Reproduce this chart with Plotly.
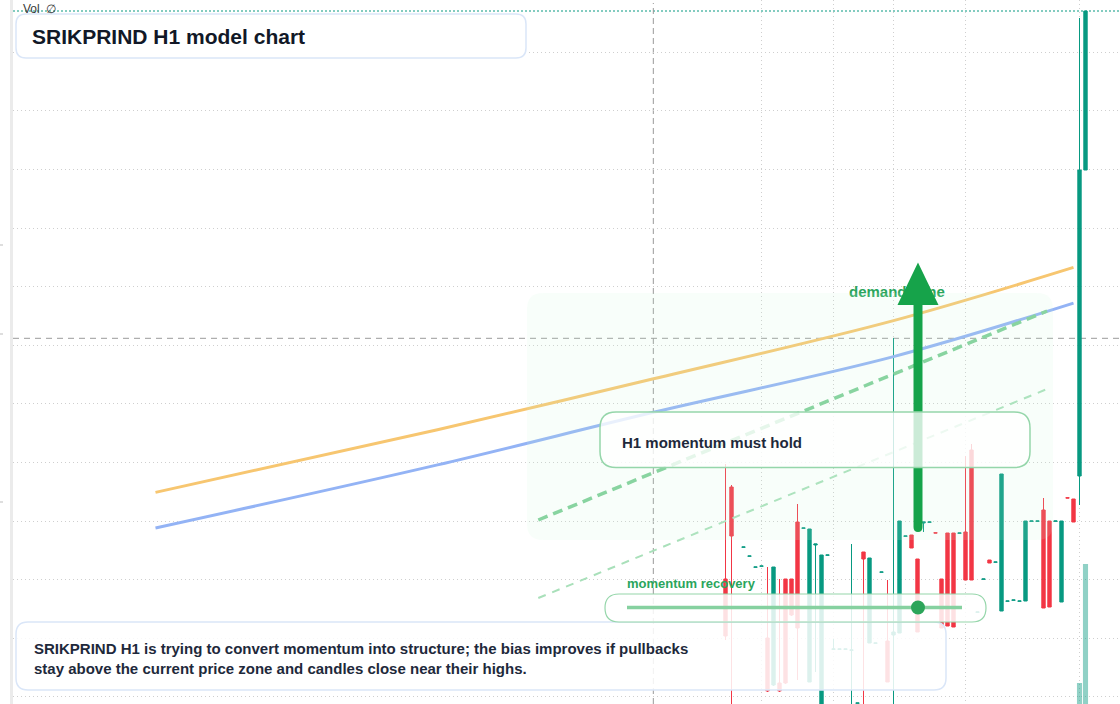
import plotly.graph_objects as go

# ---------------- data (bar index, prices) ----------------
bar_index = [0, 1, 3, 4, 5, 6, 7, 8, 9, 10, 11, 12, 13, 14, 15, 16, 17, 18, 19, 20,
             21, 22, 23, 24, 25, 26, 27, 28, 29, 30, 31, 32, 33, 34, 35, 36, 37, 38, 39, 40,
             41, 42, 43, 44, 45, 46, 47, 48, 49, 50, 51, 52, 53, 54, 55, 56, 57, 58, 59, 60]

open_ = [142.1, 151.3, 145.28, 144.38, 143.28, 143.38, 136.2, 131.5, 131.7, 142.1,
         142.1, 147.8, 147.18, 131.8, 145.5, 128.0, 144.48, 135.08, 135.08, 135.08,
         134.98, 129.68, 144.8, 135.7, 135.68, 142.78, 135.9, 136.5, 136.7, 146.38,
         146.5, 144.1, 147.7, 147.78, 146.72, 142.1, 146.7, 146.7, 146.68, 146.8,
         155.0, 138.78, 142.08, 144.0, 143.78, 138.9, 139.88, 139.98, 139.88, 139.9,
         147.88, 147.88, 149.0, 147.9, 147.88, 139.8, 150.22, 150.1, 152.4, 183.0]

high = [153.6, 151.5, 145.30, 144.40, 143.30, 143.40, 143.3, 143.3, 142.1, 142.1,
        142.1, 149.6, 147.20, 147.1, 145.6, 144.5, 144.50, 136.1, 135.10, 135.10,
        145.6, 129.70, 144.8, 144.2, 135.70, 142.80, 142.0, 166.2, 147.9, 146.40,
        146.5, 144.1, 147.8, 147.80, 146.72, 142.1, 146.7, 146.7, 146.70, 154.4,
        155.6, 138.80, 142.10, 144.0, 143.80, 152.6, 139.90, 140.00, 139.90, 147.9,
        147.90, 147.90, 150.2, 147.9, 147.90, 147.9, 150.22, 150.1, 198.2, 198.9]

low = [136.0, 128.0, 145.28, 144.38, 143.28, 143.38, 130.8, 131.4, 130.8, 131.6,
       138.4, 132.0, 147.18, 131.8, 132.8, 127.5, 144.48, 135.08, 135.08, 135.08,
       128.0, 129.68, 128.0, 135.7, 135.68, 142.78, 131.8, 129.0, 136.7, 146.38,
       145.2, 136.8, 146.8, 147.78, 146.70, 137.2, 137.4, 137.3, 146.68, 142.0,
       142.0, 138.78, 142.08, 143.7, 143.78, 138.9, 139.88, 139.98, 139.88, 139.9,
       147.88, 147.88, 139.2, 139.3, 147.88, 139.8, 150.20, 147.8, 149.5, 183.0]

close = [136.4, 146.4, 145.30, 144.40, 143.30, 143.40, 130.9, 143.3, 130.9, 131.7,
         138.5, 137.2, 147.20, 147.1, 145.6, 144.5, 144.50, 135.10, 135.10, 135.10,
         135.0, 129.70, 144.1, 144.2, 135.70, 142.80, 131.8, 136.8, 147.9, 146.40,
         145.2, 136.8, 147.8, 147.80, 146.70, 137.2, 137.4, 137.3, 146.70, 142.0,
         142.0, 138.80, 142.10, 143.7, 143.80, 152.6, 139.90, 140.00, 139.90, 147.9,
         147.90, 147.90, 139.2, 139.3, 147.90, 147.9, 150.20, 147.8, 183.0, 198.9]

volume = [31000, 42000, 12000, 9000, 8000, 7000, 26000, 33000, 22000, 28000,
          19000, 35000, 6000, 38000, 21000, 44000, 5000, 6000, 4000, 4000,
          27000, 3000, 24000, 29000, 3000, 4000, 25000, 47000, 36000, 5000,
          9000, 23000, 8000, 4000, 3000, 18000, 27000, 28000, 5000, 30000,
          39000, 4000, 5000, 7000, 4000, 41000, 5000, 4000, 5000, 32000,
          4000, 4000, 37000, 29000, 4000, 30000, 5000, 12000, 77000, 196000]

# moving-average style curves (bar index, price)
ma_x = [-95, -48, -12, 28, 58]
ma_slow = [150.76, 157.03, 162.12, 167.94, 173.26]   # orange
ma_fast = [147.20, 153.51, 158.77, 164.34, 169.69]   # blue

# trend channel (bar index, price)
trend_x = [-31.2, 53.6]
trend_upper = [148.0, 168.9]
trend_lower = [140.2, 161.1]

grid_prices = [194.77, 188.91, 183.05, 177.19, 171.33, 165.47, 159.61,
               153.75, 147.89, 142.03, 136.17, 130.31]
grid_bars = [6, 18, 28, 40, 59]
cursor_bar = -12.03
cursor_price = 166.17
last_price = 198.9

price_range = [129.6, 200.0]
bar_range = [-118.75, 65.75]
vol_range = [56000, 760000]

# ---------------- helpers (pixel layout) ----------------
W, H = 1120, 704
LM = 13

def PX(x):
    return (x - LM) / (W - LM)

def PY(y):
    return 1 - y / H

def bar_of(px):
    return bar_range[0] + (px - LM) / (W - LM) * (bar_range[1] - bar_range[0])

def price_of(py):
    return price_range[1] - py / H * (price_range[1] - price_range[0])

def path_px(cmds, close_path=True):
    out = []
    for c, pts in cmds:
        coords = []
        for i in range(0, len(pts), 2):
            coords.append(f"{PX(pts[i]):.5f},{PY(pts[i+1]):.5f}")
        out.append(c + " ".join(coords))
    s = " ".join(out)
    return s + (" Z" if close_path else "")

def rrect(x0, y0, x1, y1, r):
    return path_px([
        ("M", [x0 + r, y0]), ("L", [x1 - r, y0]), ("Q", [x1, y0, x1, y0 + r]),
        ("L", [x1, y1 - r]), ("Q", [x1, y1, x1 - r, y1]), ("L", [x0 + r, y1]),
        ("Q", [x0, y1, x0, y1 - r]), ("L", [x0, y0 + r]), ("Q", [x0, y0, x0 + r, y0]),
    ])

UP = "#089981"
DN = "#F23645"
FONT = "Liberation Sans, Arial, Helvetica, sans-serif"

fig = go.Figure()

vol_colors = ["rgba(8,153,129,0.45)" if c >= o else "rgba(242,54,69,0.45)"
              for o, c in zip(open_, close)]
fig.add_trace(go.Bar(x=bar_index, y=volume, yaxis="y2", marker_color=vol_colors,
                     marker_line_width=0, width=0.85, hoverinfo="skip"))

fig.add_trace(go.Scatter(x=ma_x, y=ma_slow, mode="lines", line=dict(color="#f7c670", width=3, shape="spline"),
                         hoverinfo="skip"))
fig.add_trace(go.Scatter(x=ma_x, y=ma_fast, mode="lines", line=dict(color="#93b3f5", width=3, shape="spline"),
                         hoverinfo="skip"))
fig.add_trace(go.Scatter(x=trend_x, y=trend_upper, mode="lines",
                         line=dict(color="#7fcf98", width=3.5, dash="10px,6px"), hoverinfo="skip"))
fig.add_trace(go.Scatter(x=trend_x, y=trend_lower, mode="lines",
                         line=dict(color="#a9e0ba", width=2, dash="8px,7px"), hoverinfo="skip"))

fig.add_trace(go.Candlestick(
    x=bar_index, open=open_, high=high, low=low, close=close,
    increasing=dict(line=dict(color=UP, width=1), fillcolor=UP),
    decreasing=dict(line=dict(color=DN, width=1), fillcolor=DN),
    whiskerwidth=0, hoverinfo="skip"))

fig.add_trace(go.Scatter(x=[bar_of(849)], y=[price_of(293)], mode="text",
                         text=["<b>demand zone</b>"], textposition="middle right",
                         textfont=dict(family=FONT, size=15, color="#2aa55c"), hoverinfo="skip"))

shapes = []
# left frame strip and tiny marks
shapes.append(dict(type="rect", xref="paper", yref="paper", x0=PX(10), x1=PX(13), y0=0, y1=1,
                   fillcolor="#ebebeb", line=dict(width=0), layer="below"))
for yy in [245, 334, 502]:
    shapes.append(dict(type="line", xref="paper", yref="paper", x0=PX(0), x1=PX(3), y0=PY(yy), y1=PY(yy),
                       line=dict(color="#bdbdbd", width=1)))
# last price line
shapes.append(dict(type="line", xref="paper", yref="y", x0=0, x1=1, y0=last_price, y1=last_price,
                   line=dict(color=UP, width=1, dash="2px,2px"), layer="between"))
# crosshair
shapes.append(dict(type="line", xref="x", yref="paper", x0=cursor_bar, x1=cursor_bar, y0=0, y1=PY(3),
                   line=dict(color="#9a9a9a", width=1, dash="6px,4px"), layer="between"))
shapes.append(dict(type="line", xref="paper", yref="y", x0=0, x1=1, y0=cursor_price, y1=cursor_price,
                   line=dict(color="#9a9a9a", width=1, dash="6px,5px"), layer="between"))
# demand zone
shapes.append(dict(type="path", xref="paper", yref="paper", path=rrect(527, 293, 1053, 540, 16),
                   fillcolor="rgba(200,245,215,0.13)", line=dict(width=0), layer="above"))
# arrow
arrow = path_px([("M", [913.5, 305]), ("L", [913.5, 527]), ("Q", [913.5, 532, 918, 532]),
                 ("Q", [922.5, 532, 922.5, 527]), ("L", [922.5, 305]), ("L", [938.5, 305]),
                 ("L", [918, 262.5]), ("L", [897.5, 305])])
shapes.append(dict(type="path", xref="paper", yref="paper", path=arrow,
                   fillcolor="#16a34a", line=dict(width=0), layer="above"))
# H1 box
shapes.append(dict(type="path", xref="paper", yref="paper", path=rrect(600, 412, 1030, 467.5, 16),
                   fillcolor="rgba(255,255,255,0.78)", line=dict(color="#95d6aa", width=1.5), layer="above"))
# bottom note box
shapes.append(dict(type="path", xref="paper", yref="paper", path=rrect(16, 622, 946, 690, 12),
                   fillcolor="rgba(255,255,255,0.86)", line=dict(color="#dae6f8", width=1.5), layer="above"))
# slider box
shapes.append(dict(type="path", xref="paper", yref="paper", path=rrect(605, 594, 986, 622, 14),
                   fillcolor="rgba(255,255,255,0.85)", line=dict(color="#95d6aa", width=1.2), layer="above"))
shapes.append(dict(type="line", xref="paper", yref="paper", x0=PX(627), x1=PX(962), y0=PY(607.5), y1=PY(607.5),
                   line=dict(color="#86d1a0", width=3.5), layer="above"))
shapes.append(dict(type="circle", xref="paper", yref="paper", x0=PX(911), x1=PX(925), y0=PY(614.5), y1=PY(600.5),
                   fillcolor="#2ca55a", line=dict(width=0), layer="above"))
# title box
shapes.append(dict(type="path", xref="paper", yref="paper", path=rrect(16, 14, 526, 58, 10),
                   fillcolor="#ffffff", line=dict(color="#dae6f8", width=1.5), layer="above"))

def note(px, py, text, size, color, **kw):
    return dict(x=PX(px), y=PY(py), xref="paper", yref="paper", text=text, showarrow=False,
                xanchor="left", yanchor="middle", align="left",
                font=dict(family=FONT, size=size, color=color), **kw)

annotations = [
    note(21, 8.5, "Vol  ∅", 12, "#3a3a3a"),
    note(30, 36.5, "<b>SRIKPRIND H1 model chart</b>", 21, "#111827"),
    note(620, 442, "<b>H1 momentum must hold</b>", 15, "#1e293b"),
    note(625, 583, "<b>momentum recovery</b>", 13, "#2aa55c"),
    note(32, 658, "<b>SRIKPRIND H1 is trying to convert momentum into structure; the bias improves if pullbacks"
         "<br>stay above the current price zone and candles close near their highs.</b>", 15, "#1e293b"),
]

fig.update_layout(
    width=W, height=H, margin=dict(l=LM, r=0, t=0, b=0),
    paper_bgcolor="#ffffff", plot_bgcolor="#ffffff",
    showlegend=False, hovermode=False, boxgap=0.2,
    xaxis=dict(range=bar_range, rangeslider=dict(visible=False), tickvals=grid_bars,
               showticklabels=False, showgrid=True, gridcolor="#cfcfcf", griddash="1px,3px",
               zeroline=False, showline=False, ticks=""),
    yaxis=dict(range=price_range, tickvals=grid_prices, showticklabels=False, showgrid=True,
               gridcolor="#cfcfcf", griddash="1px,3px", zeroline=False, showline=False, ticks=""),
    yaxis2=dict(range=vol_range, overlaying="y", visible=False, showgrid=False, zeroline=False),
    shapes=shapes, annotations=annotations,
)

fig.write_html("out.html", config={"displayModeBar": False},
               post_script="document.body.style.margin='0';document.body.style.overflow='hidden';")
